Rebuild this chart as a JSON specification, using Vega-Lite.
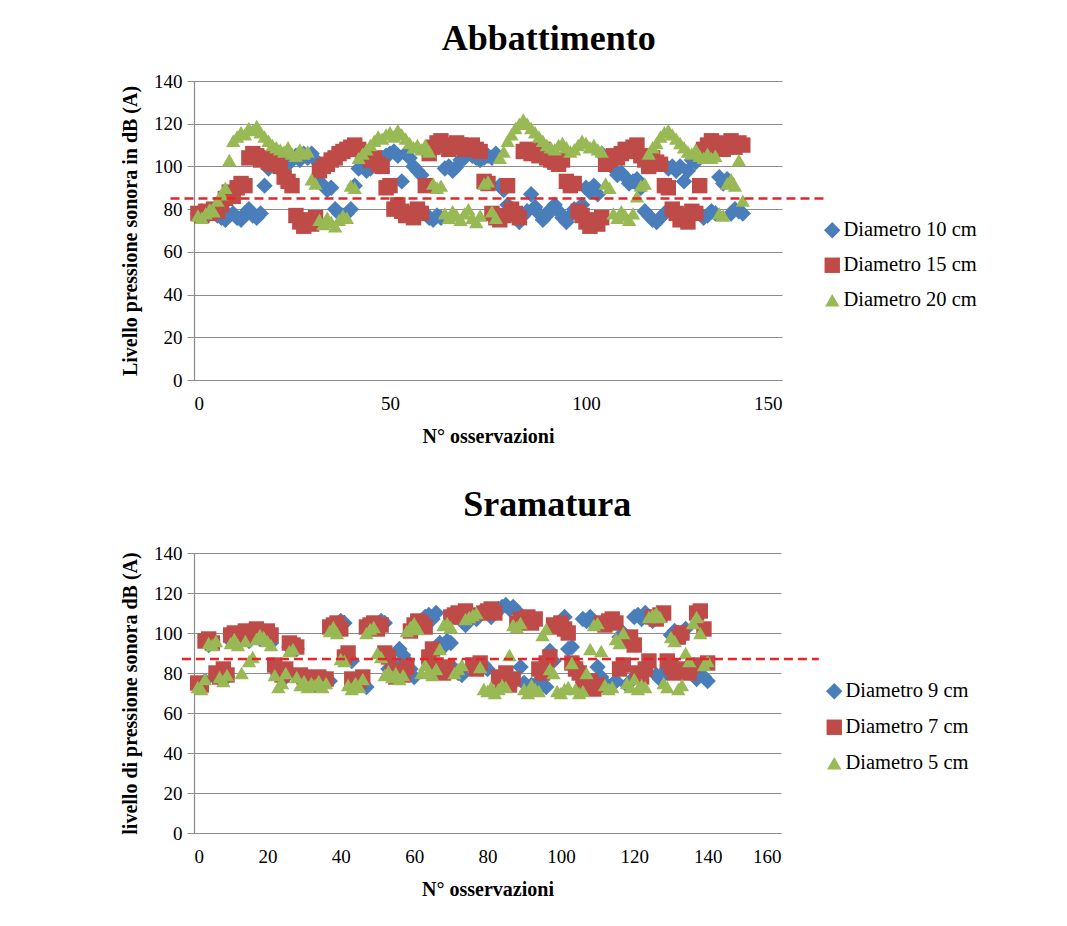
{
"$schema": "https://vega.github.io/schema/vega-lite/v6.json",
"background": "white",
"padding": {"left": 120, "top": 21, "right": 5, "bottom": 5},
"spacing": 41,
"config": {
  "font": "Liberation Serif",
  "view": {"stroke": null},
  "axis": {"labelFont": "Liberation Serif", "labelFontSize": 19, "labelColor": "black", "titleFont": "Liberation Serif", "titleFontSize": 20, "titleFontWeight": "bold", "titleColor": "black", "gridColor": "#8c8c8c", "domainColor": "#8c8c8c", "tickColor": "#8c8c8c", "gridWidth": 1.2, "domainWidth": 1.2, "labelOverlap": false},
  "axisX": {"grid": false, "ticks": false, "labelPadding": 14, "titlePadding": 13},
  "axisY": {"tickSize": 7, "labelPadding": 5, "titlePadding": 13},
  "legend": {"labelFont": "Liberation Serif", "labelFontSize": 20.5, "labelColor": "black"},
  "title": {"font": "Liberation Serif", "fontSize": 36, "fontWeight": "bold", "color": "black"}
},
"datasets": {
  "abb": [
{"o":1,"a":78,"b":78,"c":77},{"o":2,"a":79,"b":77,"c":76},{"o":3,"a":77,"b":79,"c":78},{"o":4,"a":78,"b":78,"c":80},{"o":5,"a":80,"b":80,"c":79},{"o":6,"a":77,"b":79,"c":84},{"o":7,"a":76,"b":82,"c":87},{"o":8,"a":75,"b":85,"c":90},{"o":9,"a":77,"b":88,"c":103},{"o":10,"a":78,"b":86,"c":112},
{"o":11,"a":76,"b":90,"c":114},{"o":12,"a":75,"b":92,"c":116},{"o":13,"a":78,"b":91,"c":115},{"o":14,"a":80,"b":104,"c":118},{"o":15,"a":77,"b":106,"c":117},{"o":16,"a":76,"b":105,"c":119},{"o":17,"a":78,"b":103,"c":116},{"o":18,"a":91,"b":104,"c":114},{"o":19,"a":99,"b":102,"c":112},{"o":20,"a":101,"b":101,"c":110},
{"o":21,"a":100,"b":103,"c":109},{"o":22,"a":102,"b":100,"c":108},{"o":23,"a":103,"b":95,"c":107},{"o":24,"a":101,"b":93,"c":109},{"o":25,"a":104,"b":91,"c":106},{"o":26,"a":105,"b":77,"c":105},{"o":27,"a":103,"b":74,"c":108},{"o":28,"a":106,"b":72,"c":106},{"o":29,"a":104,"b":75,"c":107},{"o":30,"a":106,"b":73,"c":94},
{"o":31,"a":103,"b":76,"c":92},{"o":32,"a":93,"b":98,"c":75},{"o":33,"a":91,"b":100,"c":73},{"o":34,"a":89,"b":101,"c":76},{"o":35,"a":90,"b":103,"c":74},{"o":36,"a":80,"b":104,"c":72},{"o":37,"a":78,"b":106,"c":75},{"o":38,"a":77,"b":107,"c":77},{"o":39,"a":78,"b":108,"c":76},{"o":40,"a":80,"b":109,"c":91},
{"o":41,"a":91,"b":110,"c":90},{"o":42,"a":99,"b":108,"c":104},{"o":43,"a":100,"b":106,"c":106},{"o":44,"a":98,"b":105,"c":108},{"o":45,"a":99,"b":103,"c":110},{"o":46,"a":101,"b":104,"c":112},{"o":47,"a":103,"b":101,"c":114},{"o":48,"a":104,"b":100,"c":113},{"o":49,"a":105,"b":90,"c":115},{"o":50,"a":106,"b":91,"c":116},
{"o":51,"a":107,"b":80,"c":114},{"o":52,"a":105,"b":82,"c":117},{"o":53,"a":93,"b":79,"c":115},{"o":54,"a":106,"b":77,"c":113},{"o":55,"a":104,"b":78,"c":111},{"o":56,"a":100,"b":76,"c":109},{"o":57,"a":98,"b":80,"c":110},{"o":58,"a":96,"b":78,"c":108},{"o":59,"a":78,"b":91,"c":110},{"o":60,"a":76,"b":106,"c":107},
{"o":61,"a":75,"b":109,"c":92},{"o":62,"a":77,"b":111,"c":90},{"o":63,"a":76,"b":112,"c":91},{"o":64,"a":99,"b":110,"c":78},{"o":65,"a":100,"b":108,"c":76},{"o":66,"a":98,"b":109,"c":79},{"o":67,"a":100,"b":111,"c":77},{"o":68,"a":103,"b":110,"c":75},{"o":69,"a":104,"b":108,"c":78},{"o":70,"a":106,"b":109,"c":80},
{"o":71,"a":105,"b":110,"c":76},{"o":72,"a":104,"b":108,"c":74},{"o":73,"a":103,"b":107,"c":77},{"o":74,"a":104,"b":93,"c":92},{"o":75,"a":105,"b":92,"c":93},{"o":76,"a":104,"b":78,"c":79},{"o":77,"a":106,"b":76,"c":76},{"o":78,"a":91,"b":75,"c":104},{"o":79,"a":89,"b":77,"c":107},{"o":80,"a":82,"b":91,"c":112},
{"o":81,"a":79,"b":80,"c":115},{"o":82,"a":76,"b":78,"c":118},{"o":83,"a":74,"b":76,"c":120},{"o":84,"a":77,"b":107,"c":122},{"o":85,"a":79,"b":108,"c":120},{"o":86,"a":87,"b":106,"c":118},{"o":87,"a":81,"b":107,"c":116},{"o":88,"a":78,"b":105,"c":114},{"o":89,"a":75,"b":108,"c":112},{"o":90,"a":77,"b":104,"c":110},
{"o":91,"a":80,"b":103,"c":109},{"o":92,"a":82,"b":102,"c":108},{"o":93,"a":79,"b":101,"c":110},{"o":94,"a":76,"b":103,"c":111},{"o":95,"a":74,"b":93,"c":109},{"o":96,"a":77,"b":91,"c":107},{"o":97,"a":80,"b":92,"c":108},{"o":98,"a":78,"b":79,"c":110},{"o":99,"a":82,"b":77,"c":112},{"o":100,"a":90,"b":74,"c":111},
{"o":101,"a":88,"b":72,"c":109},{"o":102,"a":91,"b":75,"c":110},{"o":103,"a":87,"b":73,"c":108},{"o":104,"a":106,"b":76,"c":107},{"o":105,"a":104,"b":101,"c":92},{"o":106,"a":102,"b":103,"c":90},{"o":107,"a":99,"b":105,"c":78},{"o":108,"a":96,"b":104,"c":76},{"o":109,"a":97,"b":106,"c":79},{"o":110,"a":95,"b":108,"c":77},
{"o":111,"a":92,"b":107,"c":75},{"o":112,"a":93,"b":109,"c":78},{"o":113,"a":94,"b":110,"c":86},{"o":114,"a":90,"b":105,"c":91},{"o":115,"a":79,"b":103,"c":92},{"o":116,"a":77,"b":100,"c":106},{"o":117,"a":75,"b":104,"c":109},{"o":118,"a":74,"b":102,"c":111},{"o":119,"a":76,"b":101,"c":114},{"o":120,"a":78,"b":91,"c":116},
{"o":121,"a":99,"b":90,"c":117},{"o":122,"a":100,"b":80,"c":115},{"o":123,"a":98,"b":78,"c":113},{"o":124,"a":100,"b":75,"c":111},{"o":125,"a":93,"b":77,"c":109},{"o":126,"a":98,"b":74,"c":107},{"o":127,"a":103,"b":79,"c":106},{"o":128,"a":102,"b":78,"c":108},{"o":129,"a":78,"b":91,"c":105},{"o":130,"a":76,"b":108,"c":104},
{"o":131,"a":77,"b":110,"c":106},{"o":132,"a":79,"b":112,"c":104},{"o":133,"a":78,"b":109,"c":105},{"o":134,"a":95,"b":111,"c":78},{"o":135,"a":92,"b":108,"c":77},{"o":136,"a":94,"b":110,"c":92},{"o":137,"a":78,"b":112,"c":94},{"o":138,"a":80,"b":109,"c":91},{"o":139,"a":79,"b":111,"c":103},{"o":140,"a":78,"b":110,"c":84}
  ],
  "sram": [
{"o":1,"a":74,"b":75,"c":73},{"o":2,"a":73,"b":74,"c":72},{"o":3,"a":76,"b":96,"c":77},{"o":4,"a":94,"b":97,"c":95},{"o":5,"a":96,"b":95,"c":94},{"o":6,"a":79,"b":80,"c":96},{"o":7,"a":77,"b":78,"c":78},{"o":8,"a":80,"b":82,"c":76},{"o":9,"a":78,"b":79,"c":79},{"o":10,"a":96,"b":99,"c":95},
{"o":11,"a":98,"b":100,"c":97},{"o":12,"a":95,"b":98,"c":94},{"o":13,"a":97,"b":97,"c":80},{"o":14,"a":99,"b":101,"c":96},{"o":15,"a":96,"b":99,"c":86},{"o":16,"a":98,"b":100,"c":88},{"o":17,"a":100,"b":102,"c":97},{"o":18,"a":97,"b":100,"c":99},{"o":19,"a":99,"b":98,"c":98},{"o":20,"a":98,"b":101,"c":96},
{"o":21,"a":95,"b":99,"c":94},{"o":22,"a":82,"b":84,"c":79},{"o":23,"a":79,"b":81,"c":73},{"o":24,"a":81,"b":79,"c":75},{"o":25,"a":78,"b":82,"c":80},{"o":26,"a":93,"b":95,"c":91},{"o":27,"a":94,"b":94,"c":92},{"o":28,"a":92,"b":93,"c":78},{"o":29,"a":77,"b":79,"c":74},{"o":30,"a":76,"b":78,"c":76},
{"o":31,"a":75,"b":76,"c":73},{"o":32,"a":77,"b":77,"c":75},{"o":33,"a":74,"b":75,"c":74},{"o":34,"a":76,"b":78,"c":76},{"o":35,"a":75,"b":76,"c":73},{"o":36,"a":77,"b":77,"c":75},{"o":37,"a":76,"b":103,"c":101},{"o":38,"a":102,"b":104,"c":103},{"o":39,"a":104,"b":105,"c":100},{"o":40,"a":106,"b":102,"c":87},
{"o":41,"a":105,"b":88,"c":86},{"o":42,"a":88,"b":90,"c":74},{"o":43,"a":86,"b":77,"c":72},{"o":44,"a":76,"b":75,"c":75},{"o":45,"a":74,"b":76,"c":73},{"o":46,"a":75,"b":78,"c":77},{"o":47,"a":73,"b":103,"c":100},{"o":48,"a":102,"b":104,"c":102},{"o":49,"a":104,"b":105,"c":103},{"o":50,"a":103,"b":102,"c":90},
{"o":51,"a":106,"b":104,"c":88},{"o":52,"a":105,"b":90,"c":79},{"o":53,"a":82,"b":88,"c":81},{"o":54,"a":80,"b":80,"c":78},{"o":55,"a":84,"b":78,"c":80},{"o":56,"a":92,"b":81,"c":77},{"o":57,"a":89,"b":79,"c":79},{"o":58,"a":86,"b":83,"c":101},{"o":59,"a":82,"b":101,"c":103},{"o":60,"a":78,"b":104,"c":105},
{"o":61,"a":104,"b":106,"c":102},{"o":62,"a":106,"b":105,"c":80},{"o":63,"a":108,"b":103,"c":84},{"o":64,"a":109,"b":88,"c":81},{"o":65,"a":107,"b":92,"c":79},{"o":66,"a":110,"b":84,"c":82},{"o":67,"a":95,"b":82,"c":92},{"o":68,"a":93,"b":80,"c":104},{"o":69,"a":96,"b":83,"c":105},{"o":70,"a":95,"b":108,"c":103},
{"o":71,"a":82,"b":109,"c":80},{"o":72,"a":80,"b":110,"c":82},{"o":73,"a":79,"b":108,"c":84},{"o":74,"a":104,"b":111,"c":107},{"o":75,"a":106,"b":109,"c":108},{"o":76,"a":108,"b":84,"c":109},{"o":77,"a":107,"b":82,"c":110},{"o":78,"a":110,"b":85,"c":83},{"o":79,"a":84,"b":110,"c":72},{"o":80,"a":82,"b":111,"c":71},
{"o":81,"a":108,"b":112,"c":73},{"o":82,"a":111,"b":110,"c":70},{"o":83,"a":112,"b":78,"c":72},{"o":84,"a":113,"b":76,"c":74},{"o":85,"a":114,"b":80,"c":73},{"o":86,"a":112,"b":74,"c":89},{"o":87,"a":113,"b":77,"c":104},{"o":88,"a":111,"b":105,"c":103},{"o":89,"a":83,"b":107,"c":105},{"o":90,"a":75,"b":106,"c":72},
{"o":91,"a":73,"b":108,"c":70},{"o":92,"a":74,"b":105,"c":74},{"o":93,"a":72,"b":107,"c":72},{"o":94,"a":76,"b":82,"c":71},{"o":95,"a":74,"b":80,"c":99},{"o":96,"a":73,"b":85,"c":102},{"o":97,"a":91,"b":88,"c":82},{"o":98,"a":86,"b":104,"c":80},{"o":99,"a":104,"b":103,"c":71},{"o":100,"a":106,"b":105,"c":70},
{"o":101,"a":108,"b":102,"c":72},{"o":102,"a":92,"b":100,"c":73},{"o":103,"a":93,"b":85,"c":85},{"o":104,"a":84,"b":82,"c":72},{"o":105,"a":82,"b":80,"c":70},{"o":106,"a":107,"b":75,"c":71},{"o":107,"a":106,"b":73,"c":80},{"o":108,"a":108,"b":76,"c":92},{"o":109,"a":105,"b":72,"c":104},{"o":110,"a":83,"b":74,"c":105},
{"o":111,"a":78,"b":105,"c":91},{"o":112,"a":75,"b":104,"c":74},{"o":113,"a":73,"b":106,"c":72},{"o":114,"a":74,"b":107,"c":73},{"o":115,"a":76,"b":105,"c":97},{"o":116,"a":98,"b":82,"c":95},{"o":117,"a":100,"b":84,"c":100},{"o":118,"a":74,"b":96,"c":75},{"o":119,"a":76,"b":98,"c":73},{"o":120,"a":108,"b":94,"c":77},
{"o":121,"a":109,"b":80,"c":72},{"o":122,"a":107,"b":78,"c":74},{"o":123,"a":110,"b":82,"c":73},{"o":124,"a":108,"b":86,"c":108},{"o":125,"a":106,"b":108,"c":109},{"o":126,"a":79,"b":107,"c":110},{"o":127,"a":77,"b":109,"c":108},{"o":128,"a":80,"b":110,"c":75},{"o":129,"a":82,"b":86,"c":73},{"o":130,"a":99,"b":83,"c":98},
{"o":131,"a":101,"b":80,"c":96},{"o":132,"a":100,"b":98,"c":72},{"o":133,"a":98,"b":100,"c":74},{"o":134,"a":102,"b":82,"c":90},{"o":135,"a":84,"b":80,"c":86},{"o":136,"a":80,"b":84,"c":105},{"o":137,"a":77,"b":110,"c":108},{"o":138,"a":79,"b":111,"c":100},{"o":139,"a":78,"b":102,"c":84},{"o":140,"a":76,"b":85,"c":86}
  ],
  "names1": [{"k":"a","serie":"Diametro 10 cm"},{"k":"b","serie":"Diametro 15 cm"},{"k":"c","serie":"Diametro 20 cm"}],
  "names2": [{"k":"a","serie":"Diametro 9 cm"},{"k":"b","serie":"Diametro 7  cm"},{"k":"c","serie":"Diametro 5 cm"}],
  "lim1": [{"x0":-6,"x1":160.7,"lim":85}],
  "lim2": [{"x0":-3.3,"x1":170.3,"lim":87}]
},
"resolve": {"scale": {"color": "independent", "shape": "independent", "size": "independent"}, "legend": {"color": "independent", "shape": "independent"}},
"vconcat": [
  {
    "title": {"text": "Abbattimento", "anchor": "middle", "frame": "bounds", "offset": 14},
    "width": 588,
    "height": 299,
    "layer": [
      {
        "data": {"name": "abb"},
        "transform": [
          {"fold": ["a", "b", "c"], "as": ["k", "db"]},
          {"lookup": "k", "from": {"data": {"name": "names1"}, "key": "k", "fields": ["serie"]}}
        ],
        "mark": {"type": "point", "filled": true, "opacity": 1, "strokeWidth": 0},
        "encoding": {
          "x": {"field": "o", "type": "quantitative", "scale": {"domain": [0, 150], "nice": false}, "axis": {"values": [0, 50, 100, 150], "title": "N° osservazioni"}},
          "y": {"field": "db", "type": "quantitative", "scale": {"domain": [0, 140], "nice": false}, "axis": {"values": [0, 20, 40, 60, 80, 100, 120, 140], "tickCount": 8, "title": "Livello pressione sonora in dB (A)"}},
          "color": {"field": "serie", "type": "nominal", "scale": {"domain": ["Diametro 10 cm", "Diametro 15 cm", "Diametro 20 cm"], "range": ["#4a7ebb", "#be4b48", "#98b954"]},
            "legend": {"orient": "none", "legendX": 628, "legendY": 139, "title": null, "symbolSize": 110, "rowPadding": 14, "labelOffset": 1, "padding": 0, "symbolStrokeWidth": 0}},
          "shape": {"field": "serie", "type": "nominal", "scale": {"domain": ["Diametro 10 cm", "Diametro 15 cm", "Diametro 20 cm"], "range": ["diamond", "square", "triangle-up"]}},
          "size": {"field": "serie", "type": "nominal", "scale": {"domain": ["Diametro 10 cm", "Diametro 15 cm", "Diametro 20 cm"], "range": [270, 205, 250]}, "legend": null},
          "order": {"field": "k", "sort": "ascending"}
        }
      },
      {
        "data": {"name": "lim1"},
        "mark": {"type": "rule", "color": "#e5252a", "strokeDash": [9, 5], "strokeWidth": 2.5, "clip": false},
        "encoding": {
          "x": {"field": "x0", "type": "quantitative", "scale": {"domain": [0, 150], "nice": false}, "axis": {"values": [0, 50, 100, 150], "title": "N° osservazioni"}},
          "x2": {"field": "x1"},
          "y": {"field": "lim", "type": "quantitative", "scale": {"domain": [0, 140], "nice": false}, "axis": {"values": [0, 20, 40, 60, 80, 100, 120, 140], "tickCount": 8, "title": "Livello pressione sonora in dB (A)"}}
        }
      }
    ]
  },
  {
    "title": {"text": "Sramatura", "anchor": "middle", "frame": "bounds", "offset": 20},
    "width": 587,
    "height": 280,
    "layer": [
      {
        "data": {"name": "sram"},
        "transform": [
          {"fold": ["a", "b", "c"], "as": ["k", "db"]},
          {"lookup": "k", "from": {"data": {"name": "names2"}, "key": "k", "fields": ["serie"]}}
        ],
        "mark": {"type": "point", "filled": true, "opacity": 1, "strokeWidth": 0},
        "encoding": {
          "x": {"field": "o", "type": "quantitative", "scale": {"domain": [0, 160], "nice": false}, "axis": {"values": [0, 20, 40, 60, 80, 100, 120, 140, 160], "title": "N° osservazioni"}},
          "y": {"field": "db", "type": "quantitative", "scale": {"domain": [0, 140], "nice": false}, "axis": {"values": [0, 20, 40, 60, 80, 100, 120, 140], "tickCount": 8, "title": "livello di pressione sonora dB (A)"}},
          "color": {"field": "serie", "type": "nominal", "scale": {"domain": ["Diametro 9 cm", "Diametro 7  cm", "Diametro 5 cm"], "range": ["#4a7ebb", "#be4b48", "#98b954"]},
            "legend": {"orient": "none", "legendX": 630, "legendY": 128, "title": null, "symbolSize": 110, "rowPadding": 15, "labelOffset": 1, "padding": 0, "symbolStrokeWidth": 0}},
          "shape": {"field": "serie", "type": "nominal", "scale": {"domain": ["Diametro 9 cm", "Diametro 7  cm", "Diametro 5 cm"], "range": ["diamond", "square", "triangle-up"]}},
          "size": {"field": "serie", "type": "nominal", "scale": {"domain": ["Diametro 9 cm", "Diametro 7  cm", "Diametro 5 cm"], "range": [270, 205, 250]}, "legend": null},
          "order": {"field": "k", "sort": "ascending"}
        }
      },
      {
        "data": {"name": "lim2"},
        "mark": {"type": "rule", "color": "#e5252a", "strokeDash": [9, 5], "strokeWidth": 2.5, "clip": false},
        "encoding": {
          "x": {"field": "x0", "type": "quantitative", "scale": {"domain": [0, 160], "nice": false}, "axis": {"values": [0, 20, 40, 60, 80, 100, 120, 140, 160], "title": "N° osservazioni"}},
          "x2": {"field": "x1"},
          "y": {"field": "lim", "type": "quantitative", "scale": {"domain": [0, 140], "nice": false}, "axis": {"values": [0, 20, 40, 60, 80, 100, 120, 140], "tickCount": 8, "title": "livello di pressione sonora dB (A)"}}
        }
      }
    ]
  }
]
}
